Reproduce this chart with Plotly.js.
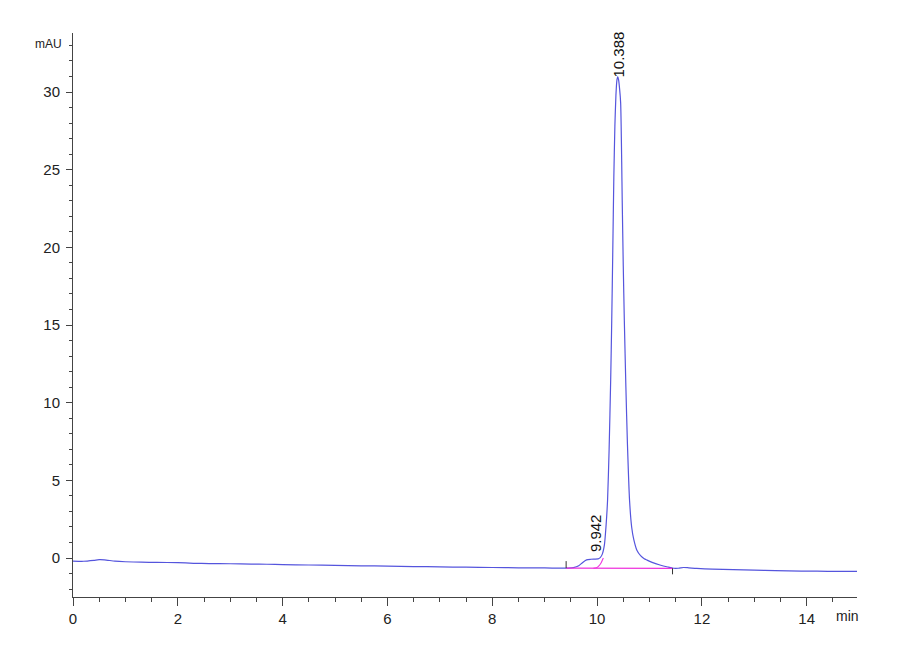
<!DOCTYPE html>
<html>
<head>
<meta charset="utf-8">
<script src="https://cdn.plot.ly/plotly-3.0.1.min.js"></script>
<style>
html,body{margin:0;padding:0;background:#fff;}
#chart{width:900px;height:660px;}
</style>
</head>
<body>
<div id="chart"></div>
<script>
// Chromatogram signal (min, mAU)
var time = [0, 0.2, 0.4, 0.5, 0.6, 0.8, 1.0, 1.3, 1.6, 2.0, 2.3, 2.6, 3.0, 3.4, 3.7, 4.0, 4.5, 5.0, 5.5, 6.0, 6.5, 7.0, 7.5, 8.0, 8.5, 9.0, 9.3, 9.45,
  9.55, 9.65, 9.72, 9.80, 9.88, 9.95, 10.02, 10.06, 10.10, 10.14, 10.17, 10.20, 10.23, 10.26, 10.28, 10.30, 10.32, 10.34, 10.36, 10.38, 10.395, 10.41, 10.43,
  10.45, 10.47, 10.48, 10.50, 10.52, 10.55, 10.58, 10.62, 10.66, 10.70, 10.76, 10.83, 10.90, 10.95, 11.05, 11.20, 11.35, 11.46, 11.55, 11.65, 11.75,
  11.9, 12.2, 12.6, 13.0, 13.4, 13.9, 14.2, 14.6, 14.96];
var signal = [-0.20, -0.21, -0.15, -0.11, -0.12, -0.20, -0.24, -0.27, -0.28, -0.30, -0.34, -0.36, -0.37, -0.39, -0.40, -0.43, -0.45, -0.47, -0.50, -0.52, -0.55, -0.57, -0.59, -0.61, -0.63, -0.64, -0.65, -0.65,
  -0.62, -0.50, -0.30, -0.12, -0.08, -0.07, -0.06, 0.02, 0.25, 0.84, 2.0, 3.7, 7.0, 11.5, 15.3, 19.8, 24.5, 27.8, 29.8, 30.8, 31.0, 30.8, 30.2,
  29.3, 25.5, 23.0, 18.8, 15.3, 11.0, 7.3, 3.7, 2.0, 1.2, 0.5, 0.15, -0.05, -0.13, -0.28, -0.45, -0.58, -0.66, -0.66, -0.61, -0.63,
  -0.67, -0.72, -0.75, -0.78, -0.81, -0.84, -0.85, -0.86, -0.86];

// Integration baseline and drop curve (magenta)
var baseX = [9.41, 11.44];
var baseY = [-0.65, -0.67];
var dropX = [9.93, 9.99, 10.03, 10.07, 10.10, 10.12];
var dropY = [-0.655, -0.62, -0.52, -0.35, -0.15, 0.0];

// Integration event tick marks
var eventX = [9.41, 11.44];
var eventTop = [-0.2, -0.66];
var eventBottom = [-0.65, -1.05];

// Peak labels
var peakTimes = [9.96, 10.40];
var peakTops = [-0.07, 31.0];
var peakLabels = ['9.942', '10.388'];

var traces = [
  {x: time, y: signal, mode: 'lines', line: {color: '#5555dd', width: 1.2, shape: 'spline', smoothing: 0.6}, hoverinfo: 'skip'},
  {x: baseX, y: baseY, mode: 'lines', line: {color: '#ee33dd', width: 1.2}, hoverinfo: 'skip'},
  {x: dropX, y: dropY, mode: 'lines', line: {color: '#ee33dd', width: 1.1, shape: 'spline'}, hoverinfo: 'skip'}
];
for (var i = 0; i < eventX.length; i++) {
  traces.push({x: [eventX[i], eventX[i]], y: [eventTop[i], eventBottom[i]], mode: 'lines',
    line: {color: '#333333', width: 1}, hoverinfo: 'skip'});
}

var annotations = [];
for (var j = 0; j < peakTimes.length; j++) {
  annotations.push({x: peakTimes[j], y: peakTops[j], xref: 'x', yref: 'y', text: peakLabels[j],
    textangle: -90, showarrow: false, xanchor: 'center', yanchor: 'bottom', yshift: j === 1 ? -3 : 5,
    font: {family: 'Liberation Sans, Arial, sans-serif', size: 15, color: '#111'}});
}
annotations.push({x: 0, y: 1, xref: 'paper', yref: 'paper', text: 'mAU', showarrow: false,
  xanchor: 'right', yanchor: 'top', xshift: -9, yshift: -2,
  font: {family: 'Liberation Sans Narrow, Liberation Sans, Arial, sans-serif', size: 12, color: '#222'}});
annotations.push({x: 1, y: 0, xref: 'paper', yref: 'paper', text: 'min', showarrow: false,
  xanchor: 'right', yanchor: 'top', xshift: 4, yshift: -9,
  font: {family: 'Liberation Sans Narrow, Liberation Sans, Arial, sans-serif', size: 14, color: '#222'}});

var layout = {
  width: 900, height: 660,
  margin: {l: 73, r: 43, t: 33, b: 63},
  paper_bgcolor: '#fff', plot_bgcolor: '#fff',
  showlegend: false,
  font: {family: 'Liberation Sans Narrow, Liberation Sans, Arial, sans-serif', size: 15, color: '#222'},
  xaxis: {
    range: [0, 14.96], showgrid: false, zeroline: false, showline: true, linecolor: '#444', linewidth: 1,
    tickmode: 'linear', tick0: 0, dtick: 2, ticks: 'outside', ticklen: 8, tickcolor: '#444', tickwidth: 1,
    minor: {tickmode: 'linear', tick0: 0, dtick: 0.5, ticks: 'outside', ticklen: 4, tickcolor: '#444', showgrid: false},
    ticklabelstandoff: 0
  },
  yaxis: {
    range: [-2.51, 33.8], showgrid: false, zeroline: false, showline: true, linecolor: '#444', linewidth: 1,
    tickmode: 'linear', tick0: 0, dtick: 5, ticks: 'outside', ticklen: 6, tickcolor: '#444', tickwidth: 1,
    minor: {tickmode: 'linear', tick0: 0, dtick: 1, ticks: 'outside', ticklen: 3, tickcolor: '#444', showgrid: false},
    ticklabelstandoff: 3
  },
  annotations: annotations
};

Plotly.newPlot('chart', traces, layout, {displayModeBar: false, staticPlot: true});
</script>
</body>
</html>
